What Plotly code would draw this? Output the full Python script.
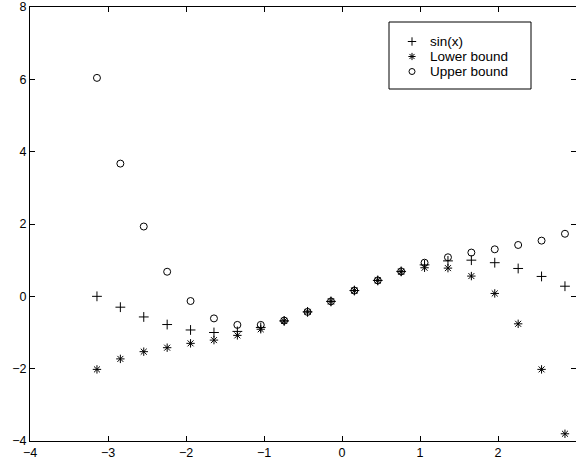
import plotly.graph_objects as go

x = [-3.1416, -2.8416, -2.5416, -2.2416, -1.9416, -1.6416, -1.3416, -1.0416,
     -0.7416, -0.4416, -0.1416, 0.1584, 0.4584, 0.7584, 1.0584, 1.3584,
     1.6584, 1.9584, 2.2584, 2.5584, 2.8584]

sin_vals = [0.00, -0.30, -0.57, -0.78, -0.93, -1.00, -0.97, -0.86, -0.68, -0.43,
            -0.14, 0.16, 0.44, 0.69, 0.87, 0.98, 1.00, 0.93, 0.77, 0.55, 0.28]

lower_vals = [-2.02, -1.73, -1.53, -1.42, -1.30, -1.21, -1.08, -0.91, -0.68, -0.43,
              -0.14, 0.16, 0.44, 0.68, 0.79, 0.78, 0.56, 0.08, -0.76, -2.02, -3.80]

upper_vals = [6.04, 3.67, 1.93, 0.68, -0.13, -0.61, -0.79, -0.79, -0.67, -0.43,
              -0.14, 0.16, 0.44, 0.69, 0.93, 1.08, 1.21, 1.30, 1.42, 1.54, 1.73]

series_names = ["sin(x)", "Lower bound", "Upper bound"]
series_symbols = ["cross-thin-open", "asterisk-open", "circle-open"]

x_ticks = [-4, -3, -2, -1, 0, 1, 2, 3]
y_ticks = [-4, -2, 0, 2, 4, 6, 8]

FAM = "Liberation Sans, Arial, Helvetica, sans-serif"
tick_font = dict(family=FAM, size=12.5, color="black")
leg_font = dict(family=FAM, size=13.5, color="black")

W, H = 576, 464
L, R, T, B = 30, 0, 7, 23

fig = go.Figure()
for name, sym, vals in zip(series_names, series_symbols, [sin_vals, lower_vals, upper_vals]):
    fig.add_trace(go.Scatter(x=x, y=vals, mode="markers", name=name, showlegend=False,
                             marker=dict(symbol=sym, size=7, color="black",
                                         line=dict(width=1, color="black"))))

# Custom legend (MATLAB style) drawn on a pixel-coordinate overlay axis
leg_box = dict(x0=389, x1=531, y0=22, y1=89)
leg_sym_x = 412
leg_text_x = 428
leg_row_y = [41.5, 56.5, 71.5]

fig.add_shape(type="rect", xref="x2", yref="y2", **leg_box,
              line=dict(color="black", width=1), fillcolor="white", layer="below")
for name, sym, ry in zip(series_names, series_symbols, leg_row_y):
    fig.add_trace(go.Scatter(x=[leg_sym_x], y=[ry], xaxis="x2", yaxis="y2", mode="markers",
                             showlegend=False, hoverinfo="skip",
                             marker=dict(symbol=sym, size=6, color="black",
                                         line=dict(width=1, color="black"))))
    fig.add_annotation(x=leg_text_x, y=ry, xref="x2", yref="y2", text=name, showarrow=False,
                       xanchor="left", yanchor="middle", font=leg_font)

axis_common = dict(showline=True, linecolor="black", linewidth=1, mirror="allticks",
                   ticks="inside", ticklen=5, tickcolor="black", tickwidth=1,
                   showgrid=False, zeroline=False, tickfont=tick_font)

fig.update_layout(
    width=W, height=H,
    margin=dict(l=L, r=R, t=T, b=B, pad=0),
    paper_bgcolor="white", plot_bgcolor="rgba(0,0,0,0)",
    font=tick_font,
    showlegend=False,
    xaxis=dict(range=[-4, 3], tickvals=x_ticks, **axis_common),
    yaxis=dict(range=[-4, 8], tickvals=y_ticks, **axis_common),
    xaxis2=dict(overlaying="x", anchor="y2", range=[L, W - R], visible=False, fixedrange=True),
    yaxis2=dict(overlaying="y", anchor="x2", range=[H - B, T], visible=False, fixedrange=True),
)

fig.write_html("out.html", config={"displayModeBar": False},
               post_script="document.body.style.margin='0';")
